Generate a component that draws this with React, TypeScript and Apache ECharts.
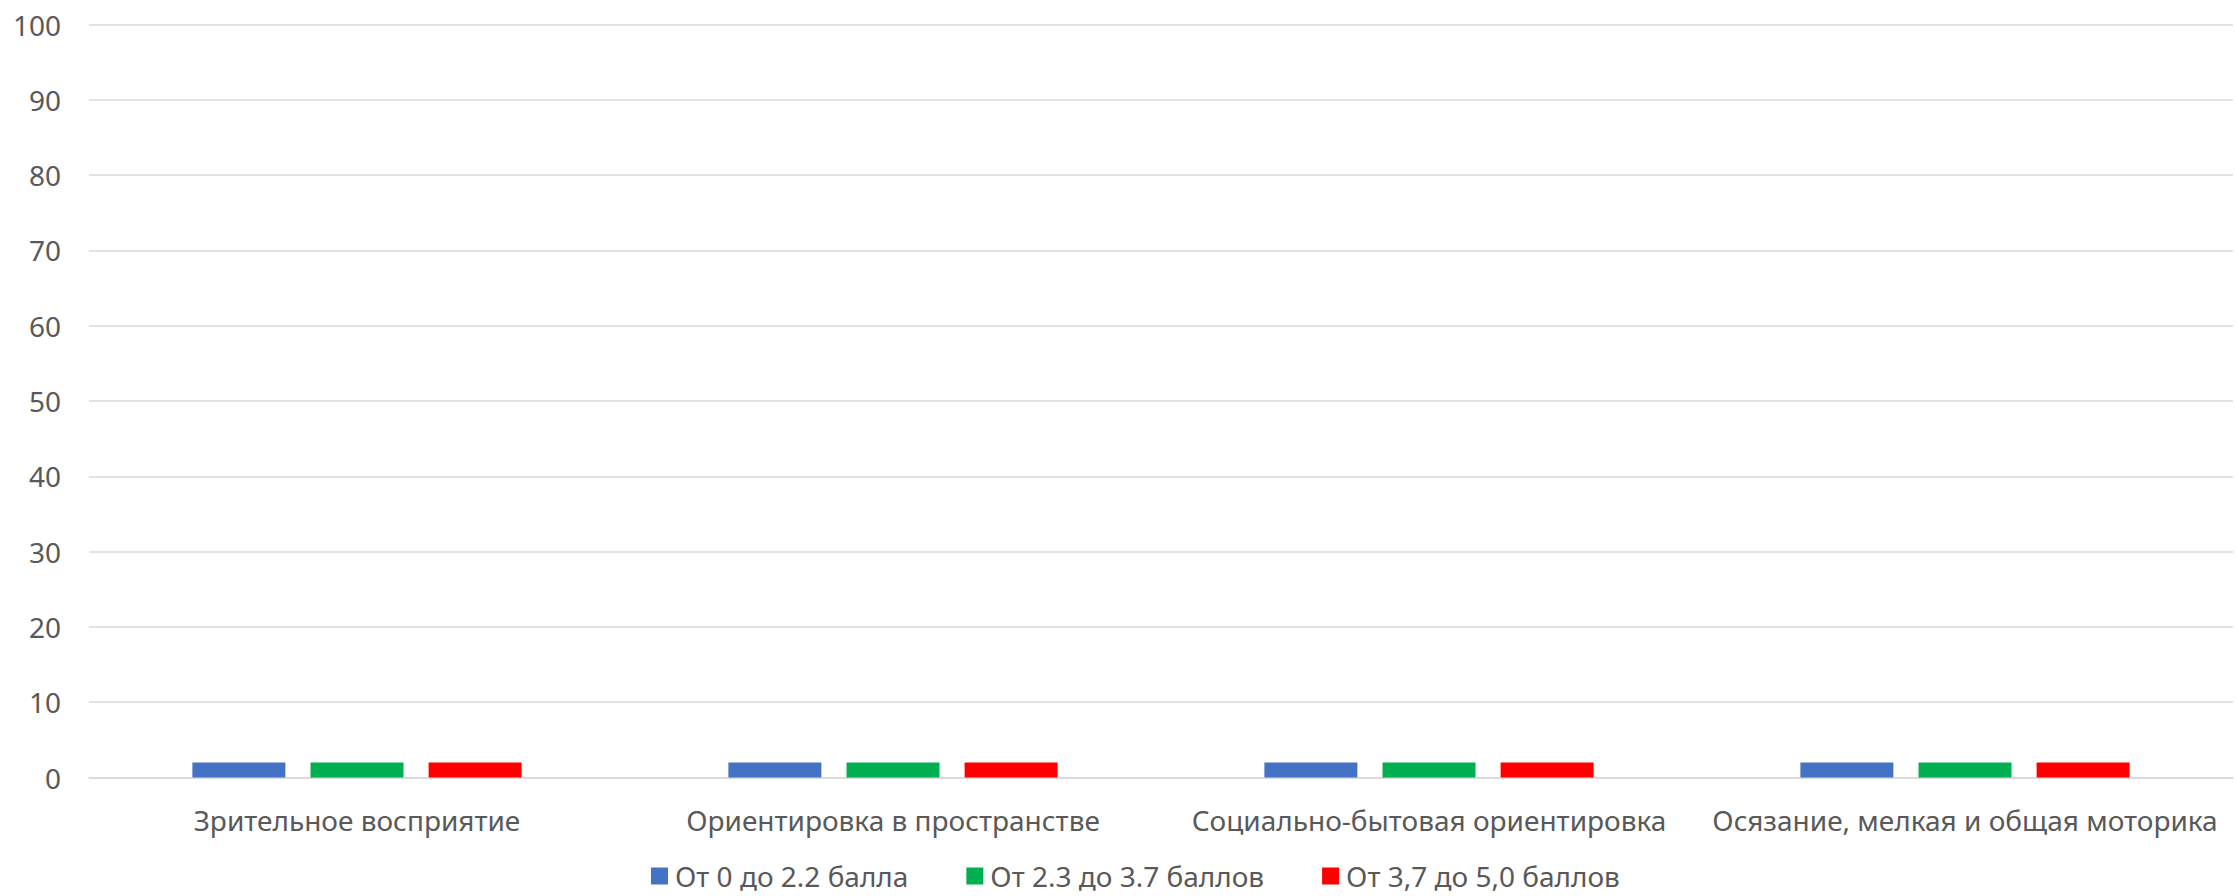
import React, { useEffect, useRef } from "react";
import * as echarts from "echarts";

const categories = [
  "Зрительное восприятие",
  "Ориентировка в пространстве",
  "Социально-бытовая ориентировка",
  "Осязание, мелкая и общая моторика",
];
const seriesNames = ["От 0 до 2.2 балла", "От 2.3 до 3.7 баллов", "От 3,7 до 5,0 баллов"];
const low = [2, 2, 2, 2];
const mid = [2, 2, 2, 2];
const high = [2, 2, 2, 2];
const colors = ["#4472C4", "#00B050", "#FF0000"];
const FONT = "'Noto Sans', sans-serif";

export default function App() {
  const ref = useRef<HTMLDivElement>(null);
  useEffect(() => {
    if (!ref.current) return;
    const chart = echarts.init(ref.current, null, { renderer: "svg" });
    const values = [low, mid, high];
    chart.setOption({
      animation: false,
      backgroundColor: "#ffffff",
      textStyle: { fontFamily: FONT },
      grid: { left: 89, right: 4, top: 24.5, bottom: 118.5, containLabel: false },
      legend: {
        bottom: 1,
        left: 651,
        padding: 0,
        itemWidth: 17,
        itemHeight: 17,
        itemGap: 58,
        icon: "rect",
        textStyle: {
          fontFamily: FONT,
          fontSize: 28,
          lineHeight: 38,
          color: "#595959",
          padding: [0, 0, 0, 2],
        },
        data: seriesNames,
      },
      xAxis: {
        type: "category",
        data: categories,
        axisLine: { show: true, lineStyle: { color: "#d9d9d9", width: 1.5 } },
        axisTick: { show: false },
        axisLabel: { fontFamily: FONT, fontSize: 28, color: "#595959", margin: 28, interval: 0 },
      },
      yAxis: {
        type: "value",
        min: 0,
        max: 100,
        interval: 10,
        axisLine: { show: false },
        axisTick: { show: false },
        splitLine: { lineStyle: { color: "#d9d9d9", width: 1.5 } },
        axisLabel: { fontFamily: FONT, fontSize: 28, color: "#595959", margin: 28 },
      },
      series: seriesNames.map((name, i) => ({
        name,
        type: "bar",
        data: values[i],
        barWidth: 93,
        barGap: "27%",
        itemStyle: { color: colors[i] },
      })),
    });
    return () => chart.dispose();
  }, []);
  return (
    <div
      ref={ref}
      style={{ position: "absolute", left: 0, top: 0, width: 2237, height: 896 }}
    />
  );
}
